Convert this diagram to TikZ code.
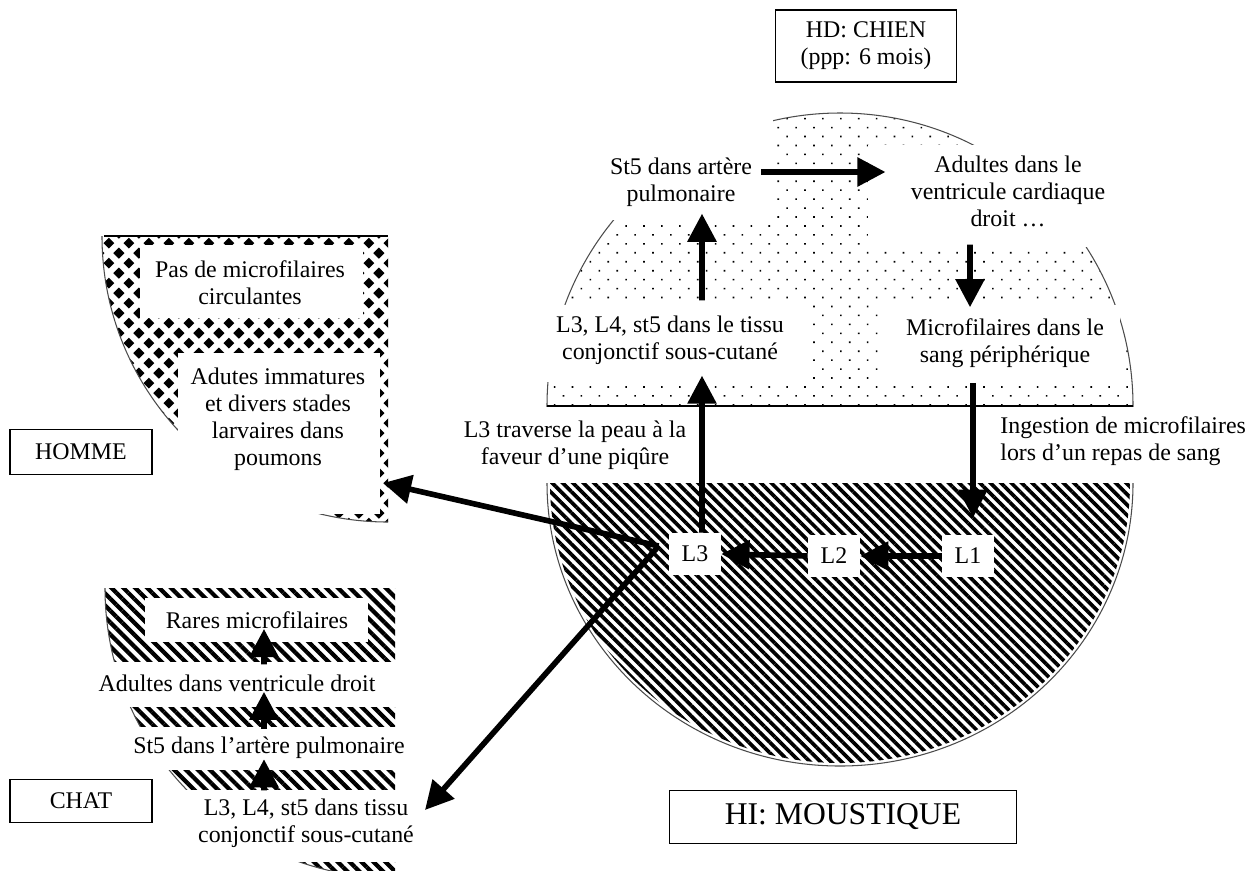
\documentclass[tikz,border=0pt]{standalone}
\usepackage{fontspec}
\setmainfont{Liberation Serif}
\usetikzlibrary{arrows.meta,patterns,patterns.meta,positioning}

\newcommand{\diam}[2]{%
  \pgfpathmoveto{\pgfpoint{#1+3.1pt}{#2}}%
  \pgfpathlineto{\pgfpoint{#1}{#2+3.1pt}}%
  \pgfpathlineto{\pgfpoint{#1-3.1pt}{#2}}%
  \pgfpathlineto{\pgfpoint{#1}{#2-3.1pt}}%
  \pgfpathclose}
\pgfdeclarepatternformonly{diamonds}{\pgfpointorigin}{\pgfqpoint{11.3pt}{11.3pt}}{\pgfqpoint{11.3pt}{11.3pt}}{%
  \diam{0pt}{0pt}\diam{11.3pt}{0pt}\diam{0pt}{11.3pt}\diam{11.3pt}{11.3pt}%
  \diam{5.65pt}{5.65pt}%
  \pgfusepath{fill}}

\begin{document}
\begin{tikzpicture}[x=0.02cm,y=-0.02cm]
  \tikzstyle{txt}=[inner sep=0pt,align=center,font=\fontsize{13.6}{15.3}\selectfont]
  \tikzstyle{stage}=[txt,fill=white,minimum width=1.04cm,minimum height=0.84cm]
  \tikzstyle{host}=[txt,draw=black,line width=0.8pt,fill=white]
  \tikzstyle{arr}=[line width=3.2pt,-{Triangle[length=16pt,width=16pt]}]
  \tikzstyle{mask}=[fill=white]
  \tikzstyle{rim}=[draw=black!70,line width=0.6pt]

  \useasboundingbox (0,0) rectangle (1260,870);

  % Chien (top) and moustique (bottom).
  \begin{scope}
    \clip (0,0) rectangle (1260,406);
    \fill[pattern={Dots[angle=45,distance=7.2pt,radius=0.65pt]}] (840,406) circle[radius=293];
    \draw[rim] (840,406) circle[radius=293];
  \end{scope}
  \draw[line width=1.2pt] (547,406) -- (1133,406);
  \begin{scope}
    \clip (0,483) rectangle (1260,870);
    \fill[pattern={Lines[angle=-45,distance=4.2pt,line width=2.1pt]}] (840,483) ellipse[x radius=290,y radius=280];
    \draw[rim] (840,483) ellipse[x radius=293,y radius=283];
  \end{scope}
  \fill[mask] (560,100) rectangle (773,220);
  \fill[mask] (868,145) rectangle (1140,247);
  \fill[mask] (530,305) rectangle (810,382);
  \fill[mask] (884,305) rectangle (1120,382);

  % Homme.
  \begin{scope}
    \clip (0,236) rectangle (388,870);
    \fill[pattern=diamonds] (388,236) circle[radius=286];
    \draw[rim] (388,236) circle[radius=286];
  \end{scope}
  \draw[line width=1.2pt] (104,236) -- (388,236);
  \fill[mask] (140,245) rectangle (363,318);
  \fill[mask] (178,353) rectangle (380,514);

  % Chat.
  \begin{scope}
    \clip (0,588) rectangle (395,870);
    \fill[pattern={Lines[angle=-45,distance=4.8pt,line width=2.4pt]}] (395,588) circle[radius=290];
    \draw[rim] (395,588) circle[radius=290];
  \end{scope}
  \fill[mask] (145,598) rectangle (368,642);
  \fill[mask] (60,662) rectangle (400,707);
  \fill[mask] (60,727) rectangle (410,770);
  \fill[mask] (60,790) rectangle (430,862);

  % Hosts.
  \node[host,minimum width=3.62cm,minimum height=1.44cm] (hd) at (866,46) {HD: CHIEN\\(ppp: 6 mois)};
  \node[host,minimum width=6.94cm,minimum height=1.06cm,font=\fontsize{18}{21}\selectfont] (hi) at (843,817) {HI: MOUSTIQUE};
  \node[host,minimum width=2.84cm,minimum height=0.9cm] (homme) at (81,452) {HOMME};
  \node[host,minimum width=2.84cm,minimum height=0.86cm] (chat) at (81,801) {CHAT};

  % Cycle in the dog.
  \node[txt] (st5) at (681,182) {St5 dans artère\\pulmonaire};
  \node[txt] (adult) at (1008,191) {Adultes dans le\\ventricule cardiaque\\droit …};
  \node[txt] (micro) at (1005,343) {Microfilaires dans le\\sang périphérique};
  \node[txt] (tissu) at (670,340) {L3, L4, st5 dans le tissu\\conjonctif sous-cutané};
  \node[txt] (piqure) at (575,445) {L3 traverse la peau à la\\faveur d’une piqûre};
  \node[txt,anchor=west,align=left] (ingest) at (1000,441) {Ingestion de microfilaires\\lors d’un repas de sang};

  % Larvae in the mosquito.
  \node[stage] (L3) at (695,554) {L3};
  \node[stage] (L2) at (834,556) {L2};
  \node[stage] (L1) at (968,556) {L1};

  % Homme.
  \node[txt] (pas) at (250,283) {Pas de microfilaires\\circulantes};
  \node[txt] (adutes) at (278,419) {Adutes immatures\\et divers stades\\larvaires dans\\poumons};
  \coordinate (hommeTip) at (383,483);

  % Chat.
  \node[txt] (rares) at (257,620) {Rares microfilaires};
  \node[txt] (cadult) at (237,683) {Adultes dans ventricule droit};
  \node[txt] (cst5) at (269,748) {St5 dans l’artère pulmonaire};
  \node[txt] (ctissu) at (306,823) {L3, L4, st5 dans tissu\\conjonctif sous-cutané};
  \coordinate (chatTip) at (425,810);

  \draw[arr,shorten <=0.18cm,shorten >=0.5cm] ([yshift=0.2cm]st5.east) -- ([yshift=0.2cm]st5.east -| adult.west);
  \draw[arr,shorten <=0.36cm,shorten >=0.22cm] ([xshift=-0.76cm]adult.south) -- ([xshift=-0.7cm]micro.north);
  \draw[arr,shorten <=0.3cm,shorten >=0.34cm] ([xshift=-0.64cm]micro.south) -- ([xshift=-0.64cm]micro.south |- L1.north);
  \draw[arr] (L1.west) -- (L2.east);
  \draw[arr] (L2.west) -- (L3.east);
  \draw[arr,shorten >=0.22cm] ([xshift=0.14cm]L3.north) -- ([xshift=0.64cm]tissu.south);
  \draw[arr,shorten <=0.3cm,shorten >=0.14cm] ([xshift=0.64cm]tissu.north) -- ([xshift=0.42cm]st5.south);
  \draw[arr] ([xshift=-0.2cm,yshift=0.16cm]L3.west) -- (hommeTip);
  \draw[arr] ([xshift=-0.2cm,yshift=0.16cm]L3.west) -- (chatTip);

  \draw[arr,shorten <=0.2cm] ([xshift=0.54cm]cadult.north) -- ([xshift=0.14cm]rares.south);
  \draw[arr,shorten <=0.16cm] ([xshift=-0.1cm]cst5.north) -- ([xshift=0.54cm]cadult.south);
  \draw[arr,shorten <=0.16cm] ([xshift=-0.84cm]ctissu.north) -- ([xshift=-0.1cm]cst5.south);
\end{tikzpicture}
\end{document}
